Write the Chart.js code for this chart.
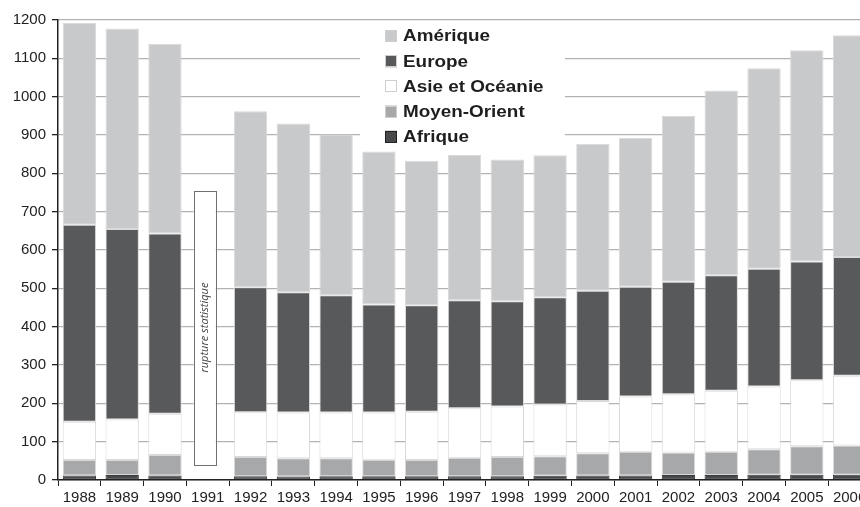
<!DOCTYPE html>
<html>
<head>
<meta charset="utf-8">
<script src="https://cdn.jsdelivr.net/npm/chart.js@4.4.1/dist/chart.umd.min.js"></script>
<style>
  html, body { margin: 0; padding: 0; background: #fff; overflow: hidden; }
  #wrap { position: relative; width: 874px; height: 507px; }
</style>
</head>
<body>
<div id="wrap"><canvas id="chart"></canvas></div>
<script>
const years = ["1988", "1989", "1990", "1991", "1992", "1993", "1994", "1995", "1996", "1997",
  "1998", "1999", "2000", "2001", "2002", "2003", "2004", "2005", "2006"];

const afrique = [12, 13, 12, null, 10, 9, 10, 10, 10, 10, 10, 11, 12, 12, 13, 13, 14, 14, 14];
const moyenOrient = [40, 39, 53, null, 50, 48, 47, 43, 42, 48, 50, 51, 58, 62, 59, 61, 66, 74, 76];
const asieOceanie = [100, 106, 108, null, 117, 119, 119, 123, 126, 129, 132, 135, 136, 144, 152, 159, 164, 172, 182];
const europe = [514, 497, 470, null, 326, 314, 306, 282, 278, 282, 274, 280, 288, 286, 293, 301, 307, 310, 310];
const amerique = [527, 523, 495, null, 459, 440, 419, 399, 377, 379, 370, 370, 383, 389, 433, 482, 523, 551, 578];

// 1991 : rupture statistique (boîte vide)
const ruptureYear = "1991";
const ruptureRange = [40, 755];
const ruptureLabel = "rupture statistique";

const yMax = 1200;
const yStep = 100;

const COLORS = {
  "Afrique": "#48494b",
  "Moyen-Orient": "#a7a8aa",
  "Asie et Océanie": "#ffffff",
  "Europe": "#58595b",
  "Amérique": "#c8c9cb"
};

const legendOrder = ["Amérique", "Europe", "Asie et Océanie", "Moyen-Orient", "Afrique"];

function dataset(label, data) {
  return {
    label,
    data,
    backgroundColor: COLORS[label],
    borderColor: label === "Afrique" ? "#3a3b3d" : "#d9d9d9",
    borderWidth: 1,
    borderSkipped: false
  };
}

const rupturePlugin = {
  id: "rupture",
  afterDatasetsDraw(chart) {
    const { ctx, scales } = chart;
    const idx = years.indexOf(ruptureYear);
    const cx = scales.x.getPixelForValue(idx) - 3;
    const top = scales.y.getPixelForValue(ruptureRange[1]);
    const bottom = scales.y.getPixelForValue(ruptureRange[0]);
    const w = 22;
    ctx.save();
    ctx.fillStyle = "#fff";
    ctx.fillRect(cx - w / 2, top, w, bottom - top);
    ctx.strokeStyle = "#707070";
    ctx.lineWidth = 1;
    ctx.strokeRect(Math.round(cx - w / 2) + 0.5, Math.round(top) + 0.5, w, Math.round(bottom - top));
    ctx.translate(cx, (top + bottom) / 2);
    ctx.rotate(-Math.PI / 2);
    ctx.fillStyle = "#444";
    ctx.font = "italic 11px 'Open Sans', sans-serif";
    ctx.textAlign = "center";
    ctx.textBaseline = "middle";
    ctx.fillText(ruptureLabel, 0, 0);
    ctx.restore();
  }
};

const legendPlugin = {
  id: "boxLegend",
  afterDatasetsDraw(chart) {
    const { ctx } = chart;
    ctx.save();
    ctx.fillStyle = "#fff";
    ctx.fillRect(360, 22, 205, 128);
    ctx.font = "bold 16px 'Liberation Sans', Arial, sans-serif";
    ctx.textBaseline = "middle";
    legendOrder.forEach((name, i) => {
      const y = 36 + i * 25.2;
      ctx.fillStyle = COLORS[name];
      ctx.fillRect(385, y - 6, 12, 12);
      ctx.strokeStyle = name === "Afrique" ? "#222" : "#cfcfcf";
      ctx.lineWidth = 1;
      ctx.strokeRect(385.5, Math.round(y - 6) + 0.5, 11, 11);
      ctx.save();
      ctx.translate(403, y + 1);
      ctx.scale(1.18, 1);
      ctx.fillStyle = "#1e1e1e";
      ctx.fillText(name, 0, 0);
      ctx.restore();
    });
    ctx.restore();
  }
};

new Chart(document.getElementById("chart"), {
  type: "bar",
  data: {
    labels: years,
    datasets: [
      dataset("Afrique", afrique),
      dataset("Moyen-Orient", moyenOrient),
      dataset("Asie et Océanie", asieOceanie),
      dataset("Europe", europe),
      dataset("Amérique", amerique)
    ]
  },
  options: {
    responsive: true,
    maintainAspectRatio: false,
    animation: false,
    categoryPercentage: 0.78,
    barPercentage: 1,
    layout: { padding: { top: 20, right: 3, left: 0, bottom: 0 } },
    plugins: {
      legend: { display: false },
      tooltip: { enabled: false }
    },
    scales: {
      x: {
        stacked: true,
        grid: { drawOnChartArea: false, drawTicks: true, tickLength: 6, color: "#222", offset: true },
        border: { color: "#222", width: 1.5 },
        ticks: {
          color: "#222",
          font: { family: "'Liberation Sans', Arial, sans-serif", size: 15 },
          padding: 3,
          maxRotation: 0,
          autoSkip: false
        },
        afterFit(scale) { scale.height = 27; }
      },
      y: {
        stacked: true,
        min: 0,
        max: yMax,
        grid: { color: "#b3b3b3", lineWidth: 1.3, tickLength: 6, tickColor: "#222" },
        border: { color: "#222", width: 1.5 },
        ticks: {
          stepSize: yStep,
          color: "#222",
          font: { family: "'Liberation Sans', Arial, sans-serif", size: 15 },
          padding: 6,
          callback: value => String(value)
        },
        afterFit(scale) { scale.width = 58; }
      }
    }
  },
  plugins: [rupturePlugin, legendPlugin]
});
</script>
</body>
</html>
